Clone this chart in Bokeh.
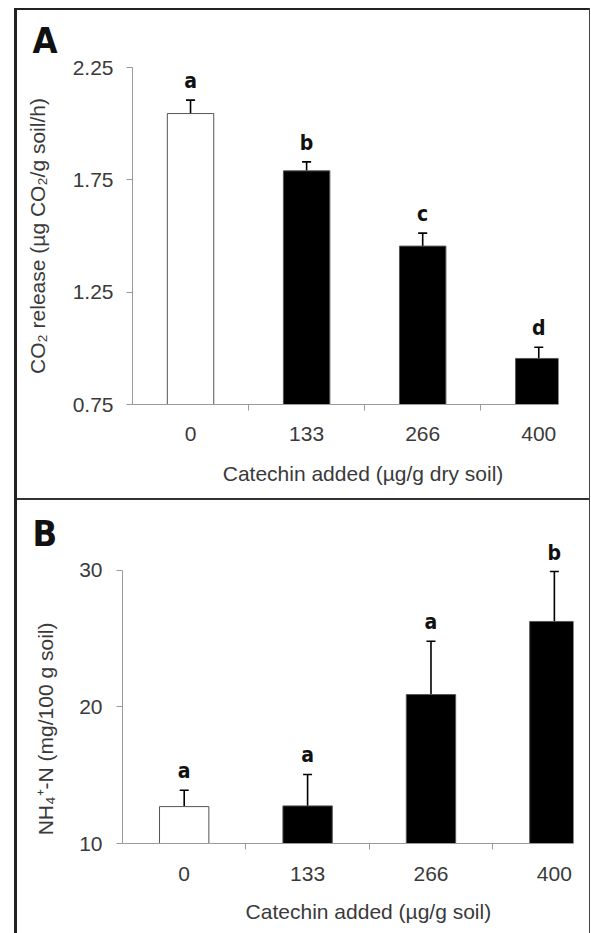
from bokeh.plotting import figure
from bokeh.layouts import column, row
from bokeh.models import (ColumnDataSource, Range1d, FixedTicker, Whisker, TeeHead,
                          LabelSet, Spacer, Title)
from bokeh.core.properties import value
from bokeh.embed import file_html
from bokeh.resources import INLINE

# ---------------- data ----------------
categories = ["0", "133", "266", "400"]
co2_release = [2.045, 1.79, 1.455, 0.955]
co2_se = [0.06, 0.04, 0.058, 0.05]
co2_letters = ["a", "b", "c", "d"]
nh4_n = [12.7, 12.75, 20.9, 26.25]
nh4_se = [1.2, 2.3, 3.9, 3.65]
nh4_letters = ["a", "a", "a", "b"]
bar_colors = ["white", "black", "black", "black"]
co2_ticks = [0.75, 1.25, 1.75, 2.25]
nh4_ticks = [10, 20, 30]

TICK_FONT = "Liberation Sans"
LETTER_FONT = "'Liberation Sans Narrow', 'DejaVu Sans Condensed', sans-serif"
TXT = "#3a3a3a"
AX = "#9a9a9a"
W = 572
FS = "21px"
NB = "\u00a0"


def panel(vals, ses, letters, ticks, y0, y1, yend, x_end, height,
          borders, ylabel, xlabel, panel_letter, title_std,
          ls_x, lab_std, tit_std, xtit_std):
    p = figure(width=W, height=height, output_backend="svg", toolbar_location=None,
               x_range=Range1d(-0.5, x_end), y_range=Range1d(y0, yend),
               min_border_left=borders[0], min_border_right=borders[1],
               min_border_top=borders[2], min_border_bottom=borders[3])
    if "frame_align" in p.properties():
        p.frame_align = False
    p.outline_line_color = None
    p.grid.grid_line_color = None
    p.background_fill_color = "white"
    p.border_fill_color = "white"

    xs = list(range(len(categories)))
    tops = [v + s for v, s in zip(vals, ses)]
    src = ColumnDataSource(dict(x=xs, v=vals, top=tops, color=bar_colors, letter=letters))

    p.vbar(x="x", top="v", bottom=y0, width=0.4, source=src, fill_color="color",
           line_color="#555555", line_width=1)
    p.add_layout(Whisker(base="x", lower="v", upper="top", source=src, dimension="height",
                         line_color="black", line_width=1.6, lower_head=None,
                         upper_head=TeeHead(size=9, line_color="black", line_width=1.6)))
    p.add_layout(LabelSet(x="x", y="top", text="letter", source=src, y_offset=7,
                          text_align="center", text_baseline="bottom",
                          text_font=value(LETTER_FONT), text_font_style="bold",
                          text_font_size="21px", text_color="#111111"))

    # panel letter as a title placed outside the frame
    p.add_layout(Title(text=panel_letter, align="left", offset=15 - borders[0],
                       standoff=title_std, vertical_align="bottom",
                       text_font=LETTER_FONT, text_font_style="bold",
                       text_font_size="36px", text_color="#111111"), "above")

    # y axis
    ya = p.yaxis[0]
    ya.ticker = FixedTicker(ticks=ticks)
    ya.bounds = (y0, y1)
    ya.axis_line_color = AX
    ya.major_tick_line_color = AX
    ya.major_tick_out = 6
    ya.major_tick_in = 0
    ya.minor_tick_line_color = None
    ya.major_label_text_font = TICK_FONT
    ya.major_label_text_font_size = FS
    ya.major_label_text_color = TXT
    ya.major_label_standoff = lab_std
    ya.axis_label = ylabel
    ya.axis_label_text_font = TICK_FONT
    ya.axis_label_text_font_style = "normal"
    ya.axis_label_text_font_size = FS
    ya.axis_label_text_color = TXT
    ya.axis_label_standoff = tit_std

    # x axis
    xa = p.xaxis[0]
    xa.ticker = FixedTicker(ticks=xs, minor_ticks=[0.5, 1.5, 2.5])
    xa.major_label_overrides = {i: c for i, c in enumerate(categories)}
    xa.axis_line_color = AX
    xa.major_tick_line_color = None
    xa.major_tick_out = 0
    xa.major_tick_in = 0
    xa.minor_tick_line_color = AX
    xa.minor_tick_out = 6
    xa.minor_tick_in = 0
    xa.major_label_text_font = TICK_FONT
    xa.major_label_text_font_size = FS
    xa.major_label_text_color = TXT
    xa.major_label_standoff = ls_x
    xa.axis_label = xlabel
    xa.axis_label_text_font = TICK_FONT
    xa.axis_label_text_font_style = "normal"
    xa.axis_label_text_font_size = FS
    xa.axis_label_text_color = TXT
    xa.axis_label_standoff = xtit_std
    return p


pA = panel(co2_release, co2_se, co2_letters, co2_ticks, 0.75, 2.25, 2.25,
           3.17, 488, (115, 31, 52, 94),
           "CO\u2082 release (\u00b5g CO\u2082/g soil/h)",
           NB * 6 + "Catechin added (\u00b5g/g dry soil)",
           "A", 14, 16, 13, 21, 18)

pB = panel(nh4_n, nh4_se, nh4_letters, nh4_ticks, 10, 30, 32.32,
           3.155, 433, (105, 16, 38, 90),
           "NH\u2084\u207a-N (mg/100 g soil)" + NB * 13,
           NB * 7 + "Catechin added (\u00b5g/g soil)",
           "B", -30, 17, 14, 19, 16)


def bar(w, h, color):
    return Spacer(width=w, height=h, styles={"background-color": color})


left_pad = Spacer(width=14, height=933)
left_line = column(Spacer(width=3, height=8), bar(3, 925, "#222222"), spacing=0)
inner = column(Spacer(width=W, height=8), bar(W, 2, "#222222"), pA,
               bar(W, 2, "#333333"), pB, spacing=0)
right_line = column(Spacer(width=1, height=8), bar(1, 925, "#444444"), spacing=0)
layout = row(left_pad, left_line, inner, right_line, spacing=0)

open("out.html", "w").write(file_html(layout, INLINE))
